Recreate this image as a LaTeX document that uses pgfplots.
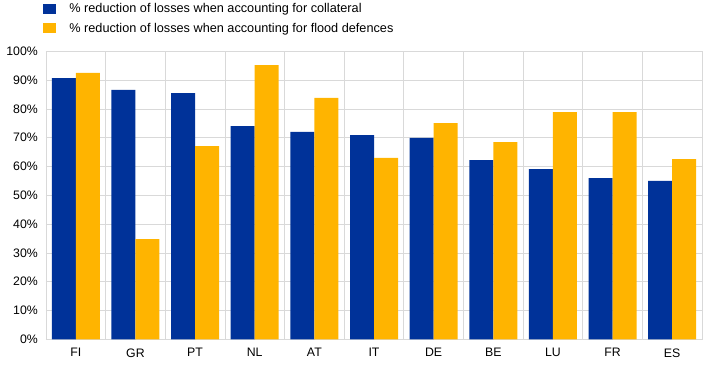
\documentclass[border=0pt]{standalone}
\usepackage{pgfplots}
\pgfplotsset{compat=1.18}
\usepackage{fontspec}
\setmainfont{Liberation Sans}
\definecolor{ecbblue}{HTML}{003299}
\definecolor{ecborange}{HTML}{FFB400}
\definecolor{gridgray}{HTML}{D9D9D9}
\begin{document}
\fontsize{12bp}{14bp}\selectfont
\begin{tikzpicture}
\begin{axis}[
  scale only axis,
  width=656bp, height=288bp,
  ybar=0pt, bar width=24bp,
  xmin=-0.5, xmax=10.5,
  ymin=0, ymax=100,
  xtick={0,...,10},
  xticklabels={FI,GR,PT,NL,AT,IT,DE,BE,LU,FR,ES},
  minor xtick={-0.5,0.5,...,10.5},
  ytick={0,10,...,100},
  yticklabel={\pgfmathprintnumber{\tick}\%},
  /pgf/number format/assume math mode=true,
  ymajorgrids, xminorgrids,
  major grid style={gridgray, line width=0.75bp},
  minor grid style={gridgray, line width=0.75bp},
  axis line style={gridgray, line width=0.75bp},
  major tick length=0pt, minor tick length=0pt,
  tick style={draw=none},
  xticklabel style={font=\fontsize{12.3bp}{14bp}\selectfont, yshift=-5bp},
  yticklabel style={font=\fontsize{12.3bp}{14bp}\selectfont, xshift=-4bp},
  legend cell align=left,
  legend style={draw=none, fill=none, at={(-6bp,340bp)}, anchor=north west,
    font=\fontsize{12.7bp}{14bp}\selectfont,
    row sep=4.5bp,
    /tikz/every odd column/.style={column sep=11.5bp}},
  legend image code/.code={\fill[#1] (0bp,-5bp) rectangle (12.7bp,5bp);},
  legend columns=1,
]
\addplot[fill=ecbblue, draw=none] coordinates {
 (0,90.7) (1,86.6) (2,85.5) (3,74.0) (4,72.0) (5,70.9)
 (6,69.9) (7,62.2) (8,59.1) (9,56.0) (10,55.0)};
\addplot[fill=ecborange, draw=none] coordinates {
 (0,92.5) (1,34.8) (2,67.1) (3,95.2) (4,83.8) (5,63.0)
 (6,75.1) (7,68.5) (8,78.9) (9,78.9) (10,62.6)};
\legend{\% reduction of losses when accounting for collateral,
        \% reduction of losses when accounting for flood defences}
\end{axis}
\pgfresetboundingbox
\path (-46bp,-26.7bp) rectangle (667bp,339.3bp);
\end{tikzpicture}
\end{document}
